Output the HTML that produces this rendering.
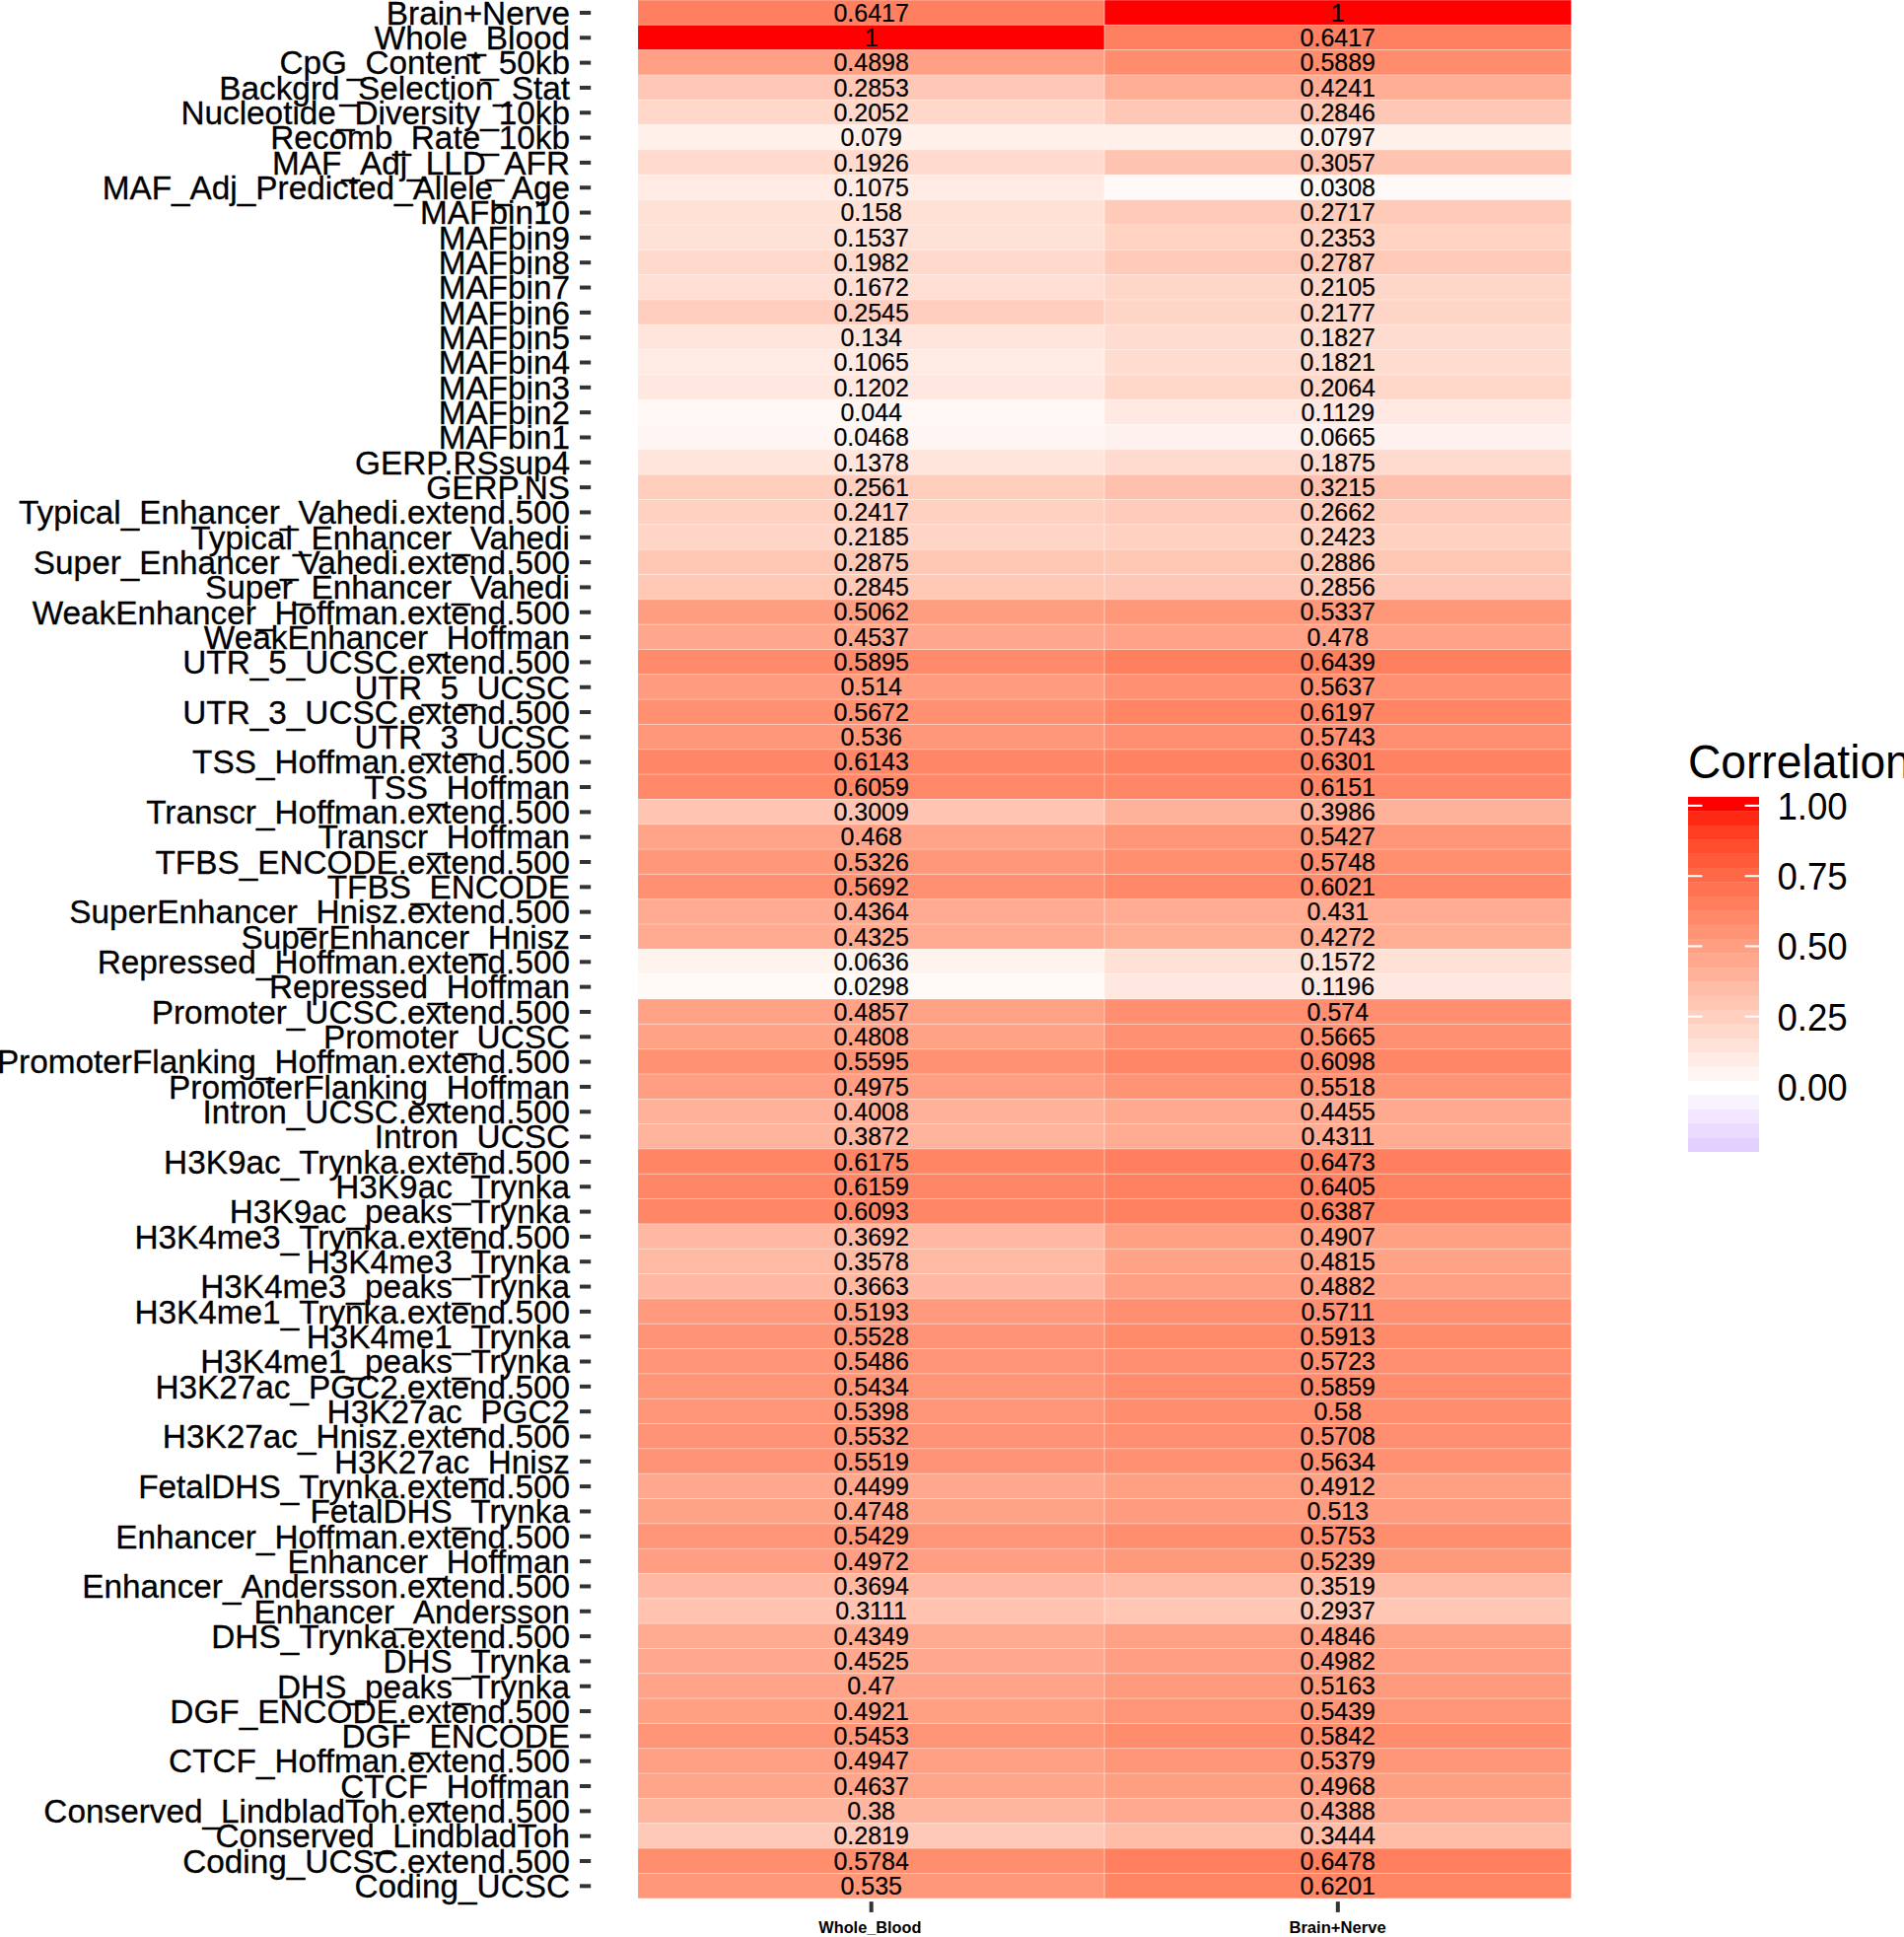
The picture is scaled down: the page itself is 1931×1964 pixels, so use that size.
<!DOCTYPE html>
<html lang="en"><head><meta charset="utf-8"><title>Correlation heatmap</title>
<style>
html,body{margin:0;padding:0;background:#fff;}
body{width:1931px;height:1964px;overflow:hidden;}
svg{display:block;font-family:"Liberation Sans", Arial, Helvetica, sans-serif;}
.yl{font-size:33.33px;text-anchor:end;fill:#000;stroke:#000;stroke-width:0.3px;}
.tv{font-size:25.0px;text-anchor:middle;fill:#000;stroke:#000;stroke-width:0.2px;}
.xl{font-size:16.3px;font-weight:bold;text-anchor:middle;fill:#000;}
.lg{font-size:36.67px;fill:#000;}
.lt{font-size:46.2px;fill:#000;}
.tk{stroke:#333;stroke-width:4.0;}
</style></head><body>
<svg width="1931" height="1964" viewBox="0 0 1931 1964">
<rect width="1931" height="1964" fill="#fff"/>

<g shape-rendering="auto">
<rect x="647.10" y="0.00" width="473.15" height="25.325" fill="#ff8060"/>
<rect x="1120.25" y="0.00" width="473.15" height="25.325" fill="#ff0000"/>
<rect x="647.10" y="25.32" width="473.15" height="25.325" fill="#ff0000"/>
<rect x="1120.25" y="25.32" width="473.15" height="25.325" fill="#ff8060"/>
<rect x="647.10" y="50.65" width="473.15" height="25.325" fill="#ffa084"/>
<rect x="1120.25" y="50.65" width="473.15" height="25.325" fill="#ff8c6c"/>
<rect x="647.10" y="75.97" width="473.15" height="25.325" fill="#ffc8b6"/>
<rect x="1120.25" y="75.97" width="473.15" height="25.325" fill="#ffad94"/>
<rect x="647.10" y="101.30" width="473.15" height="25.325" fill="#ffd8ca"/>
<rect x="1120.25" y="101.30" width="473.15" height="25.325" fill="#ffc8b6"/>
<rect x="647.10" y="126.62" width="473.15" height="25.325" fill="#fff0ea"/>
<rect x="1120.25" y="126.62" width="473.15" height="25.325" fill="#fff0ea"/>
<rect x="647.10" y="151.95" width="473.15" height="25.325" fill="#ffdacd"/>
<rect x="1120.25" y="151.95" width="473.15" height="25.325" fill="#ffc4b1"/>
<rect x="647.10" y="177.28" width="473.15" height="25.325" fill="#ffebe3"/>
<rect x="1120.25" y="177.28" width="473.15" height="25.325" fill="#fff9f7"/>
<rect x="647.10" y="202.60" width="473.15" height="25.325" fill="#ffe1d6"/>
<rect x="1120.25" y="202.60" width="473.15" height="25.325" fill="#ffcbb9"/>
<rect x="647.10" y="227.92" width="473.15" height="25.325" fill="#ffe2d7"/>
<rect x="1120.25" y="227.92" width="473.15" height="25.325" fill="#ffd2c2"/>
<rect x="647.10" y="253.25" width="473.15" height="25.325" fill="#ffd9cc"/>
<rect x="1120.25" y="253.25" width="473.15" height="25.325" fill="#ffcab7"/>
<rect x="647.10" y="278.57" width="473.15" height="25.325" fill="#ffdfd4"/>
<rect x="1120.25" y="278.57" width="473.15" height="25.325" fill="#ffd7c9"/>
<rect x="647.10" y="303.90" width="473.15" height="25.325" fill="#ffcebe"/>
<rect x="1120.25" y="303.90" width="473.15" height="25.325" fill="#ffd5c7"/>
<rect x="647.10" y="329.22" width="473.15" height="25.325" fill="#ffe5dc"/>
<rect x="1120.25" y="329.22" width="473.15" height="25.325" fill="#ffdcd0"/>
<rect x="647.10" y="354.55" width="473.15" height="25.325" fill="#ffebe3"/>
<rect x="1120.25" y="354.55" width="473.15" height="25.325" fill="#ffdcd0"/>
<rect x="647.10" y="379.88" width="473.15" height="25.325" fill="#ffe8e0"/>
<rect x="1120.25" y="379.88" width="473.15" height="25.325" fill="#ffd8ca"/>
<rect x="647.10" y="405.20" width="473.15" height="25.325" fill="#fff7f3"/>
<rect x="1120.25" y="405.20" width="473.15" height="25.325" fill="#ffe9e2"/>
<rect x="647.10" y="430.52" width="473.15" height="25.325" fill="#fff6f3"/>
<rect x="1120.25" y="430.52" width="473.15" height="25.325" fill="#fff2ee"/>
<rect x="647.10" y="455.85" width="473.15" height="25.325" fill="#ffe5db"/>
<rect x="1120.25" y="455.85" width="473.15" height="25.325" fill="#ffdbcf"/>
<rect x="647.10" y="481.18" width="473.15" height="25.325" fill="#ffcebd"/>
<rect x="1120.25" y="481.18" width="473.15" height="25.325" fill="#ffc1ad"/>
<rect x="647.10" y="506.50" width="473.15" height="25.325" fill="#ffd1c1"/>
<rect x="1120.25" y="506.50" width="473.15" height="25.325" fill="#ffccbb"/>
<rect x="647.10" y="531.82" width="473.15" height="25.325" fill="#ffd5c7"/>
<rect x="1120.25" y="531.82" width="473.15" height="25.325" fill="#ffd1c1"/>
<rect x="647.10" y="557.15" width="473.15" height="25.325" fill="#ffc8b5"/>
<rect x="1120.25" y="557.15" width="473.15" height="25.325" fill="#ffc8b5"/>
<rect x="647.10" y="582.48" width="473.15" height="25.325" fill="#ffc9b6"/>
<rect x="1120.25" y="582.48" width="473.15" height="25.325" fill="#ffc8b6"/>
<rect x="647.10" y="607.80" width="473.15" height="25.325" fill="#ff9d80"/>
<rect x="1120.25" y="607.80" width="473.15" height="25.325" fill="#ff9779"/>
<rect x="647.10" y="633.12" width="473.15" height="25.325" fill="#ffa78c"/>
<rect x="1120.25" y="633.12" width="473.15" height="25.325" fill="#ffa287"/>
<rect x="647.10" y="658.45" width="473.15" height="25.325" fill="#ff8b6c"/>
<rect x="1120.25" y="658.45" width="473.15" height="25.325" fill="#ff805f"/>
<rect x="647.10" y="683.77" width="473.15" height="25.325" fill="#ff9b7e"/>
<rect x="1120.25" y="683.77" width="473.15" height="25.325" fill="#ff9172"/>
<rect x="647.10" y="709.10" width="473.15" height="25.325" fill="#ff9071"/>
<rect x="1120.25" y="709.10" width="473.15" height="25.325" fill="#ff8565"/>
<rect x="647.10" y="734.42" width="473.15" height="25.325" fill="#ff9779"/>
<rect x="1120.25" y="734.42" width="473.15" height="25.325" fill="#ff8f70"/>
<rect x="647.10" y="759.75" width="473.15" height="25.325" fill="#ff8666"/>
<rect x="1120.25" y="759.75" width="473.15" height="25.325" fill="#ff8362"/>
<rect x="647.10" y="785.07" width="473.15" height="25.325" fill="#ff8868"/>
<rect x="1120.25" y="785.07" width="473.15" height="25.325" fill="#ff8666"/>
<rect x="647.10" y="810.40" width="473.15" height="25.325" fill="#ffc5b2"/>
<rect x="1120.25" y="810.40" width="473.15" height="25.325" fill="#ffb29a"/>
<rect x="647.10" y="835.73" width="473.15" height="25.325" fill="#ffa489"/>
<rect x="1120.25" y="835.73" width="473.15" height="25.325" fill="#ff9577"/>
<rect x="647.10" y="861.05" width="473.15" height="25.325" fill="#ff9779"/>
<rect x="1120.25" y="861.05" width="473.15" height="25.325" fill="#ff8f6f"/>
<rect x="647.10" y="886.38" width="473.15" height="25.325" fill="#ff9071"/>
<rect x="1120.25" y="886.38" width="473.15" height="25.325" fill="#ff8969"/>
<rect x="647.10" y="911.70" width="473.15" height="25.325" fill="#ffab91"/>
<rect x="1120.25" y="911.70" width="473.15" height="25.325" fill="#ffac92"/>
<rect x="647.10" y="937.02" width="473.15" height="25.325" fill="#ffab92"/>
<rect x="1120.25" y="937.02" width="473.15" height="25.325" fill="#ffad93"/>
<rect x="647.10" y="962.35" width="473.15" height="25.325" fill="#fff3ee"/>
<rect x="1120.25" y="962.35" width="473.15" height="25.325" fill="#ffe1d6"/>
<rect x="647.10" y="987.67" width="473.15" height="25.325" fill="#fff9f7"/>
<rect x="1120.25" y="987.67" width="473.15" height="25.325" fill="#ffe8e0"/>
<rect x="647.10" y="1013.00" width="473.15" height="25.325" fill="#ffa185"/>
<rect x="1120.25" y="1013.00" width="473.15" height="25.325" fill="#ff8f70"/>
<rect x="647.10" y="1038.33" width="473.15" height="25.325" fill="#ffa286"/>
<rect x="1120.25" y="1038.33" width="473.15" height="25.325" fill="#ff9071"/>
<rect x="647.10" y="1063.65" width="473.15" height="25.325" fill="#ff9273"/>
<rect x="1120.25" y="1063.65" width="473.15" height="25.325" fill="#ff8767"/>
<rect x="647.10" y="1088.97" width="473.15" height="25.325" fill="#ff9e82"/>
<rect x="1120.25" y="1088.97" width="473.15" height="25.325" fill="#ff9375"/>
<rect x="647.10" y="1114.30" width="473.15" height="25.325" fill="#ffb299"/>
<rect x="1120.25" y="1114.30" width="473.15" height="25.325" fill="#ffa98e"/>
<rect x="647.10" y="1139.62" width="473.15" height="25.325" fill="#ffb49d"/>
<rect x="1120.25" y="1139.62" width="473.15" height="25.325" fill="#ffac92"/>
<rect x="647.10" y="1164.95" width="473.15" height="25.325" fill="#ff8565"/>
<rect x="1120.25" y="1164.95" width="473.15" height="25.325" fill="#ff7f5e"/>
<rect x="647.10" y="1190.27" width="473.15" height="25.325" fill="#ff8666"/>
<rect x="1120.25" y="1190.27" width="473.15" height="25.325" fill="#ff8160"/>
<rect x="647.10" y="1215.60" width="473.15" height="25.325" fill="#ff8767"/>
<rect x="1120.25" y="1215.60" width="473.15" height="25.325" fill="#ff8160"/>
<rect x="647.10" y="1240.92" width="473.15" height="25.325" fill="#ffb8a1"/>
<rect x="1120.25" y="1240.92" width="473.15" height="25.325" fill="#ffa083"/>
<rect x="647.10" y="1266.25" width="473.15" height="25.325" fill="#ffbaa4"/>
<rect x="1120.25" y="1266.25" width="473.15" height="25.325" fill="#ffa286"/>
<rect x="647.10" y="1291.58" width="473.15" height="25.325" fill="#ffb9a2"/>
<rect x="1120.25" y="1291.58" width="473.15" height="25.325" fill="#ffa084"/>
<rect x="647.10" y="1316.90" width="473.15" height="25.325" fill="#ff9a7d"/>
<rect x="1120.25" y="1316.90" width="473.15" height="25.325" fill="#ff8f70"/>
<rect x="647.10" y="1342.22" width="473.15" height="25.325" fill="#ff9375"/>
<rect x="1120.25" y="1342.22" width="473.15" height="25.325" fill="#ff8b6b"/>
<rect x="647.10" y="1367.55" width="473.15" height="25.325" fill="#ff9476"/>
<rect x="1120.25" y="1367.55" width="473.15" height="25.325" fill="#ff8f70"/>
<rect x="647.10" y="1392.88" width="473.15" height="25.325" fill="#ff9577"/>
<rect x="1120.25" y="1392.88" width="473.15" height="25.325" fill="#ff8c6d"/>
<rect x="647.10" y="1418.20" width="473.15" height="25.325" fill="#ff9678"/>
<rect x="1120.25" y="1418.20" width="473.15" height="25.325" fill="#ff8d6e"/>
<rect x="647.10" y="1443.52" width="473.15" height="25.325" fill="#ff9375"/>
<rect x="1120.25" y="1443.52" width="473.15" height="25.325" fill="#ff8f70"/>
<rect x="647.10" y="1468.85" width="473.15" height="25.325" fill="#ff9375"/>
<rect x="1120.25" y="1468.85" width="473.15" height="25.325" fill="#ff9172"/>
<rect x="647.10" y="1494.17" width="473.15" height="25.325" fill="#ffa88d"/>
<rect x="1120.25" y="1494.17" width="473.15" height="25.325" fill="#ffa083"/>
<rect x="647.10" y="1519.50" width="473.15" height="25.325" fill="#ffa387"/>
<rect x="1120.25" y="1519.50" width="473.15" height="25.325" fill="#ff9b7e"/>
<rect x="647.10" y="1544.83" width="473.15" height="25.325" fill="#ff9577"/>
<rect x="1120.25" y="1544.83" width="473.15" height="25.325" fill="#ff8e6f"/>
<rect x="647.10" y="1570.15" width="473.15" height="25.325" fill="#ff9e82"/>
<rect x="1120.25" y="1570.15" width="473.15" height="25.325" fill="#ff997c"/>
<rect x="647.10" y="1595.47" width="473.15" height="25.325" fill="#ffb8a1"/>
<rect x="1120.25" y="1595.47" width="473.15" height="25.325" fill="#ffbba5"/>
<rect x="647.10" y="1620.80" width="473.15" height="25.325" fill="#ffc3af"/>
<rect x="1120.25" y="1620.80" width="473.15" height="25.325" fill="#ffc7b4"/>
<rect x="647.10" y="1646.12" width="473.15" height="25.325" fill="#ffab91"/>
<rect x="1120.25" y="1646.12" width="473.15" height="25.325" fill="#ffa185"/>
<rect x="647.10" y="1671.45" width="473.15" height="25.325" fill="#ffa88d"/>
<rect x="1120.25" y="1671.45" width="473.15" height="25.325" fill="#ff9e82"/>
<rect x="647.10" y="1696.77" width="473.15" height="25.325" fill="#ffa488"/>
<rect x="1120.25" y="1696.77" width="473.15" height="25.325" fill="#ff9b7d"/>
<rect x="647.10" y="1722.10" width="473.15" height="25.325" fill="#ffa083"/>
<rect x="1120.25" y="1722.10" width="473.15" height="25.325" fill="#ff9577"/>
<rect x="647.10" y="1747.42" width="473.15" height="25.325" fill="#ff9576"/>
<rect x="1120.25" y="1747.42" width="473.15" height="25.325" fill="#ff8d6d"/>
<rect x="647.10" y="1772.75" width="473.15" height="25.325" fill="#ff9f83"/>
<rect x="1120.25" y="1772.75" width="473.15" height="25.325" fill="#ff9678"/>
<rect x="647.10" y="1798.08" width="473.15" height="25.325" fill="#ffa58a"/>
<rect x="1120.25" y="1798.08" width="473.15" height="25.325" fill="#ff9f82"/>
<rect x="647.10" y="1823.40" width="473.15" height="25.325" fill="#ffb69e"/>
<rect x="1120.25" y="1823.40" width="473.15" height="25.325" fill="#ffaa90"/>
<rect x="647.10" y="1848.72" width="473.15" height="25.325" fill="#ffc9b7"/>
<rect x="1120.25" y="1848.72" width="473.15" height="25.325" fill="#ffbda7"/>
<rect x="647.10" y="1874.05" width="473.15" height="25.325" fill="#ff8e6f"/>
<rect x="1120.25" y="1874.05" width="473.15" height="25.325" fill="#ff7f5e"/>
<rect x="647.10" y="1899.38" width="473.15" height="25.325" fill="#ff9779"/>
<rect x="1120.25" y="1899.38" width="473.15" height="25.325" fill="#ff8565"/>
</g>
<g stroke="#fff" stroke-opacity="0.35" stroke-width="1">
<line x1="647.10" x2="1593.40" y1="25.32" y2="25.32"/>
<line x1="647.10" x2="1593.40" y1="50.65" y2="50.65"/>
<line x1="647.10" x2="1593.40" y1="75.97" y2="75.97"/>
<line x1="647.10" x2="1593.40" y1="101.30" y2="101.30"/>
<line x1="647.10" x2="1593.40" y1="126.62" y2="126.62"/>
<line x1="647.10" x2="1593.40" y1="151.95" y2="151.95"/>
<line x1="647.10" x2="1593.40" y1="177.28" y2="177.28"/>
<line x1="647.10" x2="1593.40" y1="202.60" y2="202.60"/>
<line x1="647.10" x2="1593.40" y1="227.92" y2="227.92"/>
<line x1="647.10" x2="1593.40" y1="253.25" y2="253.25"/>
<line x1="647.10" x2="1593.40" y1="278.57" y2="278.57"/>
<line x1="647.10" x2="1593.40" y1="303.90" y2="303.90"/>
<line x1="647.10" x2="1593.40" y1="329.22" y2="329.22"/>
<line x1="647.10" x2="1593.40" y1="354.55" y2="354.55"/>
<line x1="647.10" x2="1593.40" y1="379.88" y2="379.88"/>
<line x1="647.10" x2="1593.40" y1="405.20" y2="405.20"/>
<line x1="647.10" x2="1593.40" y1="430.52" y2="430.52"/>
<line x1="647.10" x2="1593.40" y1="455.85" y2="455.85"/>
<line x1="647.10" x2="1593.40" y1="481.18" y2="481.18"/>
<line x1="647.10" x2="1593.40" y1="506.50" y2="506.50"/>
<line x1="647.10" x2="1593.40" y1="531.82" y2="531.82"/>
<line x1="647.10" x2="1593.40" y1="557.15" y2="557.15"/>
<line x1="647.10" x2="1593.40" y1="582.48" y2="582.48"/>
<line x1="647.10" x2="1593.40" y1="607.80" y2="607.80"/>
<line x1="647.10" x2="1593.40" y1="633.12" y2="633.12"/>
<line x1="647.10" x2="1593.40" y1="658.45" y2="658.45"/>
<line x1="647.10" x2="1593.40" y1="683.77" y2="683.77"/>
<line x1="647.10" x2="1593.40" y1="709.10" y2="709.10"/>
<line x1="647.10" x2="1593.40" y1="734.42" y2="734.42"/>
<line x1="647.10" x2="1593.40" y1="759.75" y2="759.75"/>
<line x1="647.10" x2="1593.40" y1="785.07" y2="785.07"/>
<line x1="647.10" x2="1593.40" y1="810.40" y2="810.40"/>
<line x1="647.10" x2="1593.40" y1="835.73" y2="835.73"/>
<line x1="647.10" x2="1593.40" y1="861.05" y2="861.05"/>
<line x1="647.10" x2="1593.40" y1="886.38" y2="886.38"/>
<line x1="647.10" x2="1593.40" y1="911.70" y2="911.70"/>
<line x1="647.10" x2="1593.40" y1="937.02" y2="937.02"/>
<line x1="647.10" x2="1593.40" y1="962.35" y2="962.35"/>
<line x1="647.10" x2="1593.40" y1="987.67" y2="987.67"/>
<line x1="647.10" x2="1593.40" y1="1013.00" y2="1013.00"/>
<line x1="647.10" x2="1593.40" y1="1038.33" y2="1038.33"/>
<line x1="647.10" x2="1593.40" y1="1063.65" y2="1063.65"/>
<line x1="647.10" x2="1593.40" y1="1088.97" y2="1088.97"/>
<line x1="647.10" x2="1593.40" y1="1114.30" y2="1114.30"/>
<line x1="647.10" x2="1593.40" y1="1139.62" y2="1139.62"/>
<line x1="647.10" x2="1593.40" y1="1164.95" y2="1164.95"/>
<line x1="647.10" x2="1593.40" y1="1190.27" y2="1190.27"/>
<line x1="647.10" x2="1593.40" y1="1215.60" y2="1215.60"/>
<line x1="647.10" x2="1593.40" y1="1240.92" y2="1240.92"/>
<line x1="647.10" x2="1593.40" y1="1266.25" y2="1266.25"/>
<line x1="647.10" x2="1593.40" y1="1291.58" y2="1291.58"/>
<line x1="647.10" x2="1593.40" y1="1316.90" y2="1316.90"/>
<line x1="647.10" x2="1593.40" y1="1342.22" y2="1342.22"/>
<line x1="647.10" x2="1593.40" y1="1367.55" y2="1367.55"/>
<line x1="647.10" x2="1593.40" y1="1392.88" y2="1392.88"/>
<line x1="647.10" x2="1593.40" y1="1418.20" y2="1418.20"/>
<line x1="647.10" x2="1593.40" y1="1443.52" y2="1443.52"/>
<line x1="647.10" x2="1593.40" y1="1468.85" y2="1468.85"/>
<line x1="647.10" x2="1593.40" y1="1494.17" y2="1494.17"/>
<line x1="647.10" x2="1593.40" y1="1519.50" y2="1519.50"/>
<line x1="647.10" x2="1593.40" y1="1544.83" y2="1544.83"/>
<line x1="647.10" x2="1593.40" y1="1570.15" y2="1570.15"/>
<line x1="647.10" x2="1593.40" y1="1595.47" y2="1595.47"/>
<line x1="647.10" x2="1593.40" y1="1620.80" y2="1620.80"/>
<line x1="647.10" x2="1593.40" y1="1646.12" y2="1646.12"/>
<line x1="647.10" x2="1593.40" y1="1671.45" y2="1671.45"/>
<line x1="647.10" x2="1593.40" y1="1696.77" y2="1696.77"/>
<line x1="647.10" x2="1593.40" y1="1722.10" y2="1722.10"/>
<line x1="647.10" x2="1593.40" y1="1747.42" y2="1747.42"/>
<line x1="647.10" x2="1593.40" y1="1772.75" y2="1772.75"/>
<line x1="647.10" x2="1593.40" y1="1798.08" y2="1798.08"/>
<line x1="647.10" x2="1593.40" y1="1823.40" y2="1823.40"/>
<line x1="647.10" x2="1593.40" y1="1848.72" y2="1848.72"/>
<line x1="647.10" x2="1593.40" y1="1874.05" y2="1874.05"/>
<line x1="647.10" x2="1593.40" y1="1899.38" y2="1899.38"/>
<line x1="1119.85" x2="1119.85" y1="0" y2="1924.70"/>
<line x1="647.10" x2="1593.40" y1="0.3" y2="0.3" stroke-opacity="0.25"/>
</g>
<g class="tk">
<line x1="588" x2="599.2" y1="12.96" y2="12.96"/>
<line x1="588" x2="599.2" y1="38.29" y2="38.29"/>
<line x1="588" x2="599.2" y1="63.61" y2="63.61"/>
<line x1="588" x2="599.2" y1="88.94" y2="88.94"/>
<line x1="588" x2="599.2" y1="114.26" y2="114.26"/>
<line x1="588" x2="599.2" y1="139.59" y2="139.59"/>
<line x1="588" x2="599.2" y1="164.91" y2="164.91"/>
<line x1="588" x2="599.2" y1="190.24" y2="190.24"/>
<line x1="588" x2="599.2" y1="215.56" y2="215.56"/>
<line x1="588" x2="599.2" y1="240.89" y2="240.89"/>
<line x1="588" x2="599.2" y1="266.21" y2="266.21"/>
<line x1="588" x2="599.2" y1="291.54" y2="291.54"/>
<line x1="588" x2="599.2" y1="316.86" y2="316.86"/>
<line x1="588" x2="599.2" y1="342.19" y2="342.19"/>
<line x1="588" x2="599.2" y1="367.51" y2="367.51"/>
<line x1="588" x2="599.2" y1="392.84" y2="392.84"/>
<line x1="588" x2="599.2" y1="418.16" y2="418.16"/>
<line x1="588" x2="599.2" y1="443.49" y2="443.49"/>
<line x1="588" x2="599.2" y1="468.81" y2="468.81"/>
<line x1="588" x2="599.2" y1="494.14" y2="494.14"/>
<line x1="588" x2="599.2" y1="519.46" y2="519.46"/>
<line x1="588" x2="599.2" y1="544.79" y2="544.79"/>
<line x1="588" x2="599.2" y1="570.11" y2="570.11"/>
<line x1="588" x2="599.2" y1="595.44" y2="595.44"/>
<line x1="588" x2="599.2" y1="620.76" y2="620.76"/>
<line x1="588" x2="599.2" y1="646.09" y2="646.09"/>
<line x1="588" x2="599.2" y1="671.41" y2="671.41"/>
<line x1="588" x2="599.2" y1="696.74" y2="696.74"/>
<line x1="588" x2="599.2" y1="722.06" y2="722.06"/>
<line x1="588" x2="599.2" y1="747.39" y2="747.39"/>
<line x1="588" x2="599.2" y1="772.71" y2="772.71"/>
<line x1="588" x2="599.2" y1="798.04" y2="798.04"/>
<line x1="588" x2="599.2" y1="823.36" y2="823.36"/>
<line x1="588" x2="599.2" y1="848.69" y2="848.69"/>
<line x1="588" x2="599.2" y1="874.01" y2="874.01"/>
<line x1="588" x2="599.2" y1="899.34" y2="899.34"/>
<line x1="588" x2="599.2" y1="924.66" y2="924.66"/>
<line x1="588" x2="599.2" y1="949.99" y2="949.99"/>
<line x1="588" x2="599.2" y1="975.31" y2="975.31"/>
<line x1="588" x2="599.2" y1="1000.64" y2="1000.64"/>
<line x1="588" x2="599.2" y1="1025.96" y2="1025.96"/>
<line x1="588" x2="599.2" y1="1051.29" y2="1051.29"/>
<line x1="588" x2="599.2" y1="1076.61" y2="1076.61"/>
<line x1="588" x2="599.2" y1="1101.94" y2="1101.94"/>
<line x1="588" x2="599.2" y1="1127.26" y2="1127.26"/>
<line x1="588" x2="599.2" y1="1152.59" y2="1152.59"/>
<line x1="588" x2="599.2" y1="1177.91" y2="1177.91"/>
<line x1="588" x2="599.2" y1="1203.24" y2="1203.24"/>
<line x1="588" x2="599.2" y1="1228.56" y2="1228.56"/>
<line x1="588" x2="599.2" y1="1253.89" y2="1253.89"/>
<line x1="588" x2="599.2" y1="1279.21" y2="1279.21"/>
<line x1="588" x2="599.2" y1="1304.54" y2="1304.54"/>
<line x1="588" x2="599.2" y1="1329.86" y2="1329.86"/>
<line x1="588" x2="599.2" y1="1355.19" y2="1355.19"/>
<line x1="588" x2="599.2" y1="1380.51" y2="1380.51"/>
<line x1="588" x2="599.2" y1="1405.84" y2="1405.84"/>
<line x1="588" x2="599.2" y1="1431.16" y2="1431.16"/>
<line x1="588" x2="599.2" y1="1456.49" y2="1456.49"/>
<line x1="588" x2="599.2" y1="1481.81" y2="1481.81"/>
<line x1="588" x2="599.2" y1="1507.14" y2="1507.14"/>
<line x1="588" x2="599.2" y1="1532.46" y2="1532.46"/>
<line x1="588" x2="599.2" y1="1557.79" y2="1557.79"/>
<line x1="588" x2="599.2" y1="1583.11" y2="1583.11"/>
<line x1="588" x2="599.2" y1="1608.44" y2="1608.44"/>
<line x1="588" x2="599.2" y1="1633.76" y2="1633.76"/>
<line x1="588" x2="599.2" y1="1659.09" y2="1659.09"/>
<line x1="588" x2="599.2" y1="1684.41" y2="1684.41"/>
<line x1="588" x2="599.2" y1="1709.74" y2="1709.74"/>
<line x1="588" x2="599.2" y1="1735.06" y2="1735.06"/>
<line x1="588" x2="599.2" y1="1760.39" y2="1760.39"/>
<line x1="588" x2="599.2" y1="1785.71" y2="1785.71"/>
<line x1="588" x2="599.2" y1="1811.04" y2="1811.04"/>
<line x1="588" x2="599.2" y1="1836.36" y2="1836.36"/>
<line x1="588" x2="599.2" y1="1861.69" y2="1861.69"/>
<line x1="588" x2="599.2" y1="1887.01" y2="1887.01"/>
<line x1="588" x2="599.2" y1="1912.34" y2="1912.34"/>
<line x1="883.67" x2="883.67" y1="1928.10" y2="1938.90"/>
<line x1="1356.83" x2="1356.83" y1="1928.10" y2="1938.90"/>
</g>
<g class="yl">
<text x="578.0" y="24.74">Brain+Nerve</text>
<text x="578.0" y="50.07">Whole_Blood</text>
<text x="578.0" y="75.39">CpG_Content_50kb</text>
<text x="578.0" y="100.72">Backgrd_Selection_Stat</text>
<text x="578.0" y="126.04">Nucleotide_Diversity_10kb</text>
<text x="578.0" y="151.37">Recomb_Rate_10kb</text>
<text x="578.0" y="176.69">MAF_Adj_LLD_AFR</text>
<text x="578.0" y="202.02">MAF_Adj_Predicted_Allele_Age</text>
<text x="578.0" y="227.34">MAFbin10</text>
<text x="578.0" y="252.67">MAFbin9</text>
<text x="578.0" y="277.99">MAFbin8</text>
<text x="578.0" y="303.32">MAFbin7</text>
<text x="578.0" y="328.64">MAFbin6</text>
<text x="578.0" y="353.97">MAFbin5</text>
<text x="578.0" y="379.29">MAFbin4</text>
<text x="578.0" y="404.62">MAFbin3</text>
<text x="578.0" y="429.94">MAFbin2</text>
<text x="578.0" y="455.27">MAFbin1</text>
<text x="578.0" y="480.59">GERP.RSsup4</text>
<text x="578.0" y="505.92">GERP.NS</text>
<text x="578.0" y="531.24">Typical_Enhancer_Vahedi.extend.500</text>
<text x="578.0" y="556.57">Typical_Enhancer_Vahedi</text>
<text x="578.0" y="581.89">Super_Enhancer_Vahedi.extend.500</text>
<text x="578.0" y="607.22">Super_Enhancer_Vahedi</text>
<text x="578.0" y="632.54">WeakEnhancer_Hoffman.extend.500</text>
<text x="578.0" y="657.87">WeakEnhancer_Hoffman</text>
<text x="578.0" y="683.19">UTR_5_UCSC.extend.500</text>
<text x="578.0" y="708.52">UTR_5_UCSC</text>
<text x="578.0" y="733.84">UTR_3_UCSC.extend.500</text>
<text x="578.0" y="759.17">UTR_3_UCSC</text>
<text x="578.0" y="784.49">TSS_Hoffman.extend.500</text>
<text x="578.0" y="809.82">TSS_Hoffman</text>
<text x="578.0" y="835.14">Transcr_Hoffman.extend.500</text>
<text x="578.0" y="860.47">Transcr_Hoffman</text>
<text x="578.0" y="885.79">TFBS_ENCODE.extend.500</text>
<text x="578.0" y="911.12">TFBS_ENCODE</text>
<text x="578.0" y="936.44">SuperEnhancer_Hnisz.extend.500</text>
<text x="578.0" y="961.77">SuperEnhancer_Hnisz</text>
<text x="578.0" y="987.09">Repressed_Hoffman.extend.500</text>
<text x="578.0" y="1012.42">Repressed_Hoffman</text>
<text x="578.0" y="1037.74">Promoter_UCSC.extend.500</text>
<text x="578.0" y="1063.07">Promoter_UCSC</text>
<text x="578.0" y="1088.39">PromoterFlanking_Hoffman.extend.500</text>
<text x="578.0" y="1113.72">PromoterFlanking_Hoffman</text>
<text x="578.0" y="1139.04">Intron_UCSC.extend.500</text>
<text x="578.0" y="1164.37">Intron_UCSC</text>
<text x="578.0" y="1189.69">H3K9ac_Trynka.extend.500</text>
<text x="578.0" y="1215.02">H3K9ac_Trynka</text>
<text x="578.0" y="1240.34">H3K9ac_peaks_Trynka</text>
<text x="578.0" y="1265.67">H3K4me3_Trynka.extend.500</text>
<text x="578.0" y="1290.99">H3K4me3_Trynka</text>
<text x="578.0" y="1316.32">H3K4me3_peaks_Trynka</text>
<text x="578.0" y="1341.64">H3K4me1_Trynka.extend.500</text>
<text x="578.0" y="1366.97">H3K4me1_Trynka</text>
<text x="578.0" y="1392.29">H3K4me1_peaks_Trynka</text>
<text x="578.0" y="1417.62">H3K27ac_PGC2.extend.500</text>
<text x="578.0" y="1442.94">H3K27ac_PGC2</text>
<text x="578.0" y="1468.27">H3K27ac_Hnisz.extend.500</text>
<text x="578.0" y="1493.59">H3K27ac_Hnisz</text>
<text x="578.0" y="1518.92">FetalDHS_Trynka.extend.500</text>
<text x="578.0" y="1544.24">FetalDHS_Trynka</text>
<text x="578.0" y="1569.57">Enhancer_Hoffman.extend.500</text>
<text x="578.0" y="1594.89">Enhancer_Hoffman</text>
<text x="578.0" y="1620.22">Enhancer_Andersson.extend.500</text>
<text x="578.0" y="1645.54">Enhancer_Andersson</text>
<text x="578.0" y="1670.87">DHS_Trynka.extend.500</text>
<text x="578.0" y="1696.19">DHS_Trynka</text>
<text x="578.0" y="1721.52">DHS_peaks_Trynka</text>
<text x="578.0" y="1746.84">DGF_ENCODE.extend.500</text>
<text x="578.0" y="1772.17">DGF_ENCODE</text>
<text x="578.0" y="1797.49">CTCF_Hoffman.extend.500</text>
<text x="578.0" y="1822.82">CTCF_Hoffman</text>
<text x="578.0" y="1848.14">Conserved_LindbladToh.extend.500</text>
<text x="578.0" y="1873.47">Conserved_LindbladToh</text>
<text x="578.0" y="1898.79">Coding_UCSC.extend.500</text>
<text x="578.0" y="1924.12">Coding_UCSC</text>
</g>
<g class="tv" transform="scale(1,1.045)">
<text x="883.67" y="20.73">0.6417</text><text x="1356.83" y="20.73">1</text>
<text x="883.67" y="44.96">1</text><text x="1356.83" y="44.96">0.6417</text>
<text x="883.67" y="69.20">0.4898</text><text x="1356.83" y="69.20">0.5889</text>
<text x="883.67" y="93.43">0.2853</text><text x="1356.83" y="93.43">0.4241</text>
<text x="883.67" y="117.67">0.2052</text><text x="1356.83" y="117.67">0.2846</text>
<text x="883.67" y="141.90">0.079</text><text x="1356.83" y="141.90">0.0797</text>
<text x="883.67" y="166.14">0.1926</text><text x="1356.83" y="166.14">0.3057</text>
<text x="883.67" y="190.37">0.1075</text><text x="1356.83" y="190.37">0.0308</text>
<text x="883.67" y="214.61">0.158</text><text x="1356.83" y="214.61">0.2717</text>
<text x="883.67" y="238.84">0.1537</text><text x="1356.83" y="238.84">0.2353</text>
<text x="883.67" y="263.07">0.1982</text><text x="1356.83" y="263.07">0.2787</text>
<text x="883.67" y="287.31">0.1672</text><text x="1356.83" y="287.31">0.2105</text>
<text x="883.67" y="311.54">0.2545</text><text x="1356.83" y="311.54">0.2177</text>
<text x="883.67" y="335.78">0.134</text><text x="1356.83" y="335.78">0.1827</text>
<text x="883.67" y="360.01">0.1065</text><text x="1356.83" y="360.01">0.1821</text>
<text x="883.67" y="384.25">0.1202</text><text x="1356.83" y="384.25">0.2064</text>
<text x="883.67" y="408.48">0.044</text><text x="1356.83" y="408.48">0.1129</text>
<text x="883.67" y="432.72">0.0468</text><text x="1356.83" y="432.72">0.0665</text>
<text x="883.67" y="456.95">0.1378</text><text x="1356.83" y="456.95">0.1875</text>
<text x="883.67" y="481.18">0.2561</text><text x="1356.83" y="481.18">0.3215</text>
<text x="883.67" y="505.42">0.2417</text><text x="1356.83" y="505.42">0.2662</text>
<text x="883.67" y="529.65">0.2185</text><text x="1356.83" y="529.65">0.2423</text>
<text x="883.67" y="553.89">0.2875</text><text x="1356.83" y="553.89">0.2886</text>
<text x="883.67" y="578.12">0.2845</text><text x="1356.83" y="578.12">0.2856</text>
<text x="883.67" y="602.36">0.5062</text><text x="1356.83" y="602.36">0.5337</text>
<text x="883.67" y="626.59">0.4537</text><text x="1356.83" y="626.59">0.478</text>
<text x="883.67" y="650.83">0.5895</text><text x="1356.83" y="650.83">0.6439</text>
<text x="883.67" y="675.06">0.514</text><text x="1356.83" y="675.06">0.5637</text>
<text x="883.67" y="699.29">0.5672</text><text x="1356.83" y="699.29">0.6197</text>
<text x="883.67" y="723.53">0.536</text><text x="1356.83" y="723.53">0.5743</text>
<text x="883.67" y="747.76">0.6143</text><text x="1356.83" y="747.76">0.6301</text>
<text x="883.67" y="772.00">0.6059</text><text x="1356.83" y="772.00">0.6151</text>
<text x="883.67" y="796.23">0.3009</text><text x="1356.83" y="796.23">0.3986</text>
<text x="883.67" y="820.47">0.468</text><text x="1356.83" y="820.47">0.5427</text>
<text x="883.67" y="844.70">0.5326</text><text x="1356.83" y="844.70">0.5748</text>
<text x="883.67" y="868.94">0.5692</text><text x="1356.83" y="868.94">0.6021</text>
<text x="883.67" y="893.17">0.4364</text><text x="1356.83" y="893.17">0.431</text>
<text x="883.67" y="917.40">0.4325</text><text x="1356.83" y="917.40">0.4272</text>
<text x="883.67" y="941.64">0.0636</text><text x="1356.83" y="941.64">0.1572</text>
<text x="883.67" y="965.87">0.0298</text><text x="1356.83" y="965.87">0.1196</text>
<text x="883.67" y="990.11">0.4857</text><text x="1356.83" y="990.11">0.574</text>
<text x="883.67" y="1014.34">0.4808</text><text x="1356.83" y="1014.34">0.5665</text>
<text x="883.67" y="1038.58">0.5595</text><text x="1356.83" y="1038.58">0.6098</text>
<text x="883.67" y="1062.81">0.4975</text><text x="1356.83" y="1062.81">0.5518</text>
<text x="883.67" y="1087.05">0.4008</text><text x="1356.83" y="1087.05">0.4455</text>
<text x="883.67" y="1111.28">0.3872</text><text x="1356.83" y="1111.28">0.4311</text>
<text x="883.67" y="1135.51">0.6175</text><text x="1356.83" y="1135.51">0.6473</text>
<text x="883.67" y="1159.75">0.6159</text><text x="1356.83" y="1159.75">0.6405</text>
<text x="883.67" y="1183.98">0.6093</text><text x="1356.83" y="1183.98">0.6387</text>
<text x="883.67" y="1208.22">0.3692</text><text x="1356.83" y="1208.22">0.4907</text>
<text x="883.67" y="1232.45">0.3578</text><text x="1356.83" y="1232.45">0.4815</text>
<text x="883.67" y="1256.69">0.3663</text><text x="1356.83" y="1256.69">0.4882</text>
<text x="883.67" y="1280.92">0.5193</text><text x="1356.83" y="1280.92">0.5711</text>
<text x="883.67" y="1305.16">0.5528</text><text x="1356.83" y="1305.16">0.5913</text>
<text x="883.67" y="1329.39">0.5486</text><text x="1356.83" y="1329.39">0.5723</text>
<text x="883.67" y="1353.62">0.5434</text><text x="1356.83" y="1353.62">0.5859</text>
<text x="883.67" y="1377.86">0.5398</text><text x="1356.83" y="1377.86">0.58</text>
<text x="883.67" y="1402.09">0.5532</text><text x="1356.83" y="1402.09">0.5708</text>
<text x="883.67" y="1426.33">0.5519</text><text x="1356.83" y="1426.33">0.5634</text>
<text x="883.67" y="1450.56">0.4499</text><text x="1356.83" y="1450.56">0.4912</text>
<text x="883.67" y="1474.80">0.4748</text><text x="1356.83" y="1474.80">0.513</text>
<text x="883.67" y="1499.03">0.5429</text><text x="1356.83" y="1499.03">0.5753</text>
<text x="883.67" y="1523.27">0.4972</text><text x="1356.83" y="1523.27">0.5239</text>
<text x="883.67" y="1547.50">0.3694</text><text x="1356.83" y="1547.50">0.3519</text>
<text x="883.67" y="1571.73">0.3111</text><text x="1356.83" y="1571.73">0.2937</text>
<text x="883.67" y="1595.97">0.4349</text><text x="1356.83" y="1595.97">0.4846</text>
<text x="883.67" y="1620.20">0.4525</text><text x="1356.83" y="1620.20">0.4982</text>
<text x="883.67" y="1644.44">0.47</text><text x="1356.83" y="1644.44">0.5163</text>
<text x="883.67" y="1668.67">0.4921</text><text x="1356.83" y="1668.67">0.5439</text>
<text x="883.67" y="1692.91">0.5453</text><text x="1356.83" y="1692.91">0.5842</text>
<text x="883.67" y="1717.14">0.4947</text><text x="1356.83" y="1717.14">0.5379</text>
<text x="883.67" y="1741.38">0.4637</text><text x="1356.83" y="1741.38">0.4968</text>
<text x="883.67" y="1765.61">0.38</text><text x="1356.83" y="1765.61">0.4388</text>
<text x="883.67" y="1789.84">0.2819</text><text x="1356.83" y="1789.84">0.3444</text>
<text x="883.67" y="1814.08">0.5784</text><text x="1356.83" y="1814.08">0.6478</text>
<text x="883.67" y="1838.31">0.535</text><text x="1356.83" y="1838.31">0.6201</text>
</g>
<g class="xl"><text x="882.38" y="1959.7">Whole_Blood</text><text x="1356.53" y="1959.7" style="font-size:16.6px">Brain+Nerve</text></g>
<g>
<rect x="1712.0" y="807.90" width="72.0" height="14.80" fill="#ff0000"/>
<rect x="1712.0" y="822.30" width="72.0" height="14.80" fill="#ff2913"/>
<rect x="1712.0" y="836.71" width="72.0" height="14.80" fill="#ff3e22"/>
<rect x="1712.0" y="851.11" width="72.0" height="14.80" fill="#ff4d2e"/>
<rect x="1712.0" y="865.52" width="72.0" height="14.80" fill="#ff5b3a"/>
<rect x="1712.0" y="879.92" width="72.0" height="14.80" fill="#ff6846"/>
<rect x="1712.0" y="894.32" width="72.0" height="14.80" fill="#ff7352"/>
<rect x="1712.0" y="908.73" width="72.0" height="14.80" fill="#ff7e5e"/>
<rect x="1712.0" y="923.13" width="72.0" height="14.80" fill="#ff8969"/>
<rect x="1712.0" y="937.54" width="72.0" height="14.80" fill="#ff9475"/>
<rect x="1712.0" y="951.94" width="72.0" height="14.80" fill="#ff9e81"/>
<rect x="1712.0" y="966.34" width="72.0" height="14.80" fill="#ffa88d"/>
<rect x="1712.0" y="980.75" width="72.0" height="14.80" fill="#ffb299"/>
<rect x="1712.0" y="995.15" width="72.0" height="14.80" fill="#ffbca6"/>
<rect x="1712.0" y="1009.56" width="72.0" height="14.80" fill="#ffc6b2"/>
<rect x="1712.0" y="1023.96" width="72.0" height="14.80" fill="#ffcfbf"/>
<rect x="1712.0" y="1038.36" width="72.0" height="14.80" fill="#ffd9cb"/>
<rect x="1712.0" y="1052.77" width="72.0" height="14.80" fill="#ffe2d8"/>
<rect x="1712.0" y="1067.17" width="72.0" height="14.80" fill="#ffece5"/>
<rect x="1712.0" y="1081.58" width="72.0" height="14.80" fill="#fff5f2"/>
<rect x="1712.0" y="1095.98" width="72.0" height="14.80" fill="#ffffff"/>
<rect x="1712.0" y="1110.38" width="72.0" height="14.80" fill="#f8f3ff"/>
<rect x="1712.0" y="1124.79" width="72.0" height="14.80" fill="#f2e7ff"/>
<rect x="1712.0" y="1139.19" width="72.0" height="14.80" fill="#ebdcff"/>
<rect x="1712.0" y="1153.60" width="72.0" height="14.40" fill="#e3d0ff"/>
</g>
<g stroke="#fff" stroke-width="2.1">
<line x1="1712.0" x2="1726.4" y1="816.90" y2="816.90"/><line x1="1769.6" x2="1784.0" y1="816.90" y2="816.90"/>
<line x1="1712.0" x2="1726.4" y1="888.17" y2="888.17"/><line x1="1769.6" x2="1784.0" y1="888.17" y2="888.17"/>
<line x1="1712.0" x2="1726.4" y1="959.44" y2="959.44"/><line x1="1769.6" x2="1784.0" y1="959.44" y2="959.44"/>
<line x1="1712.0" x2="1726.4" y1="1030.71" y2="1030.71"/><line x1="1769.6" x2="1784.0" y1="1030.71" y2="1030.71"/>
<line x1="1712.0" x2="1726.4" y1="1101.98" y2="1101.98"/><line x1="1769.6" x2="1784.0" y1="1101.98" y2="1101.98"/>
</g>
<g style="font-size:36.67px" transform="scale(1,1.07)">
<text x="1802.4" y="776.45">1.00</text>
<text x="1802.4" y="843.06">0.75</text>
<text x="1802.4" y="909.67">0.50</text>
<text x="1802.4" y="976.27">0.25</text>
<text x="1802.4" y="1042.88">0.00</text>
</g>
<text class="lt" transform="scale(1,1.035)" x="1711.9" y="762.80">Correlation</text>
</svg></body></html>
